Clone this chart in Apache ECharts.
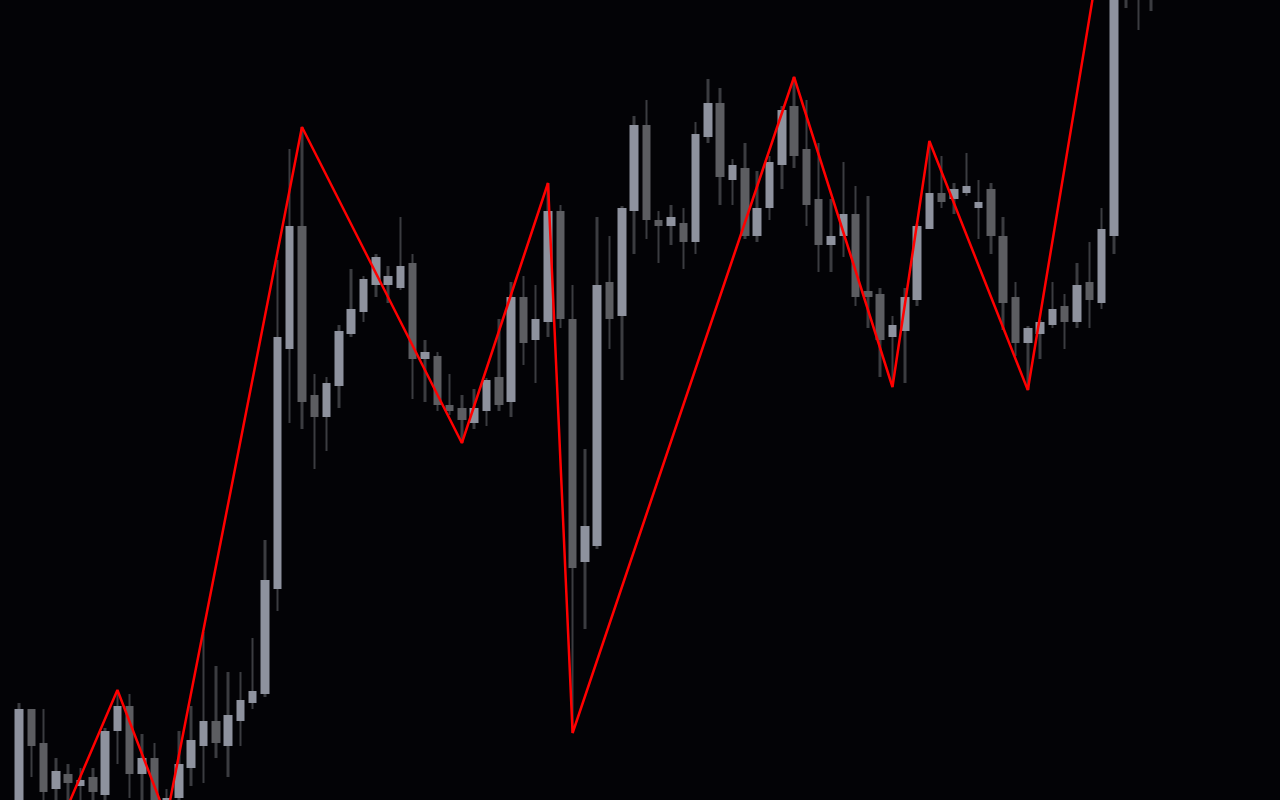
<!DOCTYPE html>
<html>
<head>
<meta charset="utf-8">
<style>
html,body{margin:0;padding:0;background:#030306;}
#chart{width:1280px;height:800px;}
</style>
<script src="https://cdn.jsdelivr.net/npm/echarts@6/dist/echarts.min.js"></script>
</head>
<body>
<div id="chart"></div>
<script>
// Price values (arbitrary price units)
const opens = [-20,91,57,11,26,14,23,5,69,94,26,42,-10,2,32,54,79,54,79,97,
  106,211,451,574,405,383,414,466,488,515,515,512,537,441,444,395,392,377,389,423,
  398,503,460,478,589,481,238,254,518,484,589,675,580,574,577,558,663,697,620,632,
  564,592,635,694,651,601,555,564,586,509,506,463,469,500,571,607,601,607,592,611,
  564,503,457,466,475,494,478,518,497,564,895,840,870];
const closes = [91,54,8,29,17,20,8,69,94,26,42,-5,2,36,60,79,57,85,100,109,
  220,463,574,398,383,417,469,491,521,543,524,534,441,448,395,389,380,392,420,395,
  503,457,481,589,481,232,274,515,481,592,675,580,574,583,558,666,697,623,635,564,
  592,638,690,644,595,555,564,586,503,503,460,475,503,574,607,598,611,614,598,564,
  497,457,472,478,491,478,515,500,571,890,840,870,850];
const lows = [-30,23,-5,-2,-5,-3,-5,-2,36,2,-3,-10,-18,-3,14,17,42,23,54,91,
  103,189,377,371,331,349,392,463,478,503,497,510,401,398,389,385,357,371,374,389,
  383,435,417,463,472,67,171,251,451,420,546,561,537,555,531,546,657,595,595,561,
  558,580,611,632,574,528,528,543,494,472,423,413,417,494,571,592,586,604,561,546,
  470,444,410,441,472,451,472,472,491,546,792,770,789];
const highs = [97,91,91,42,36,32,32,72,110,106,66,57,11,69,94,168,134,128,128,162,
  260,540,651,673,426,423,475,531,524,546,534,583,546,460,448,426,405,411,422,481,
  518,524,515,617,595,515,351,583,564,594,684,700,589,595,592,678,721,712,641,657,
  629,644,694,723,700,657,601,638,614,604,512,484,512,576,659,644,617,647,620,617,
  583,518,474,480,518,506,537,558,592,930,950,910,900];
// Zigzag turning points: [candle index, price]
const zigzagIdx = [4,8,12,23,36,43,45,63,71,74,82,89];
const zigzagVal = [-5,110,-18,673,357,617,67,723,413,659,410,930];
const totalSlots = 103;

const categories = [];
for (let i = 0; i < totalSlots; i++) categories.push(String(i + 1));

const wickData = [], bodyData = [];
for (let i = 0; i < opens.length; i++) {
  wickData.push([lows[i], highs[i], lows[i], highs[i]]);
  const lo = Math.min(opens[i], closes[i]), hi = Math.max(opens[i], closes[i]);
  bodyData.push([opens[i], closes[i], lo, hi]);
}
const zz = new Array(totalSlots).fill(null);
zigzagIdx.forEach((k, j) => { zz[k] = zigzagVal[j]; });

const chart = echarts.init(document.getElementById('chart'));
chart.setOption({
  backgroundColor: '#030306',
  animation: false,
  grid: { left: 12.85, right: 0, top: 0, bottom: 0 },
  xAxis: {
    type: 'category', data: categories, boundaryGap: true,
    axisLine: { show: false }, axisTick: { show: false },
    axisLabel: { show: false }, splitLine: { show: false }
  },
  yAxis: {
    type: 'value', min: 0, max: 800, scale: false,
    axisLine: { show: false }, axisTick: { show: false },
    axisLabel: { show: false }, splitLine: { show: false }
  },
  series: [
    {
      type: 'candlestick', name: 'wick', data: wickData, barWidth: 3, clip: true,
      itemStyle: { color: '#3b3c40', color0: '#3b3c40', borderColor: '#3b3c40', borderColor0: '#3b3c40', borderWidth: 0 },
      z: 2
    },
    {
      type: 'candlestick', name: 'body', data: bodyData, barWidth: 9, clip: true,
      itemStyle: { color: '#8e929e', color0: '#5c5d61', borderColor: '#8e929e', borderColor0: '#5c5d61', borderWidth: 0 },
      z: 3
    },
    {
      type: 'line', name: 'zigzag', data: zz, connectNulls: true, showSymbol: false,
      symbol: 'none', clip: true,
      lineStyle: { color: '#ff0000', width: 2.5 }, z: 5
    }
  ]
});
</script>
</body>
</html>
